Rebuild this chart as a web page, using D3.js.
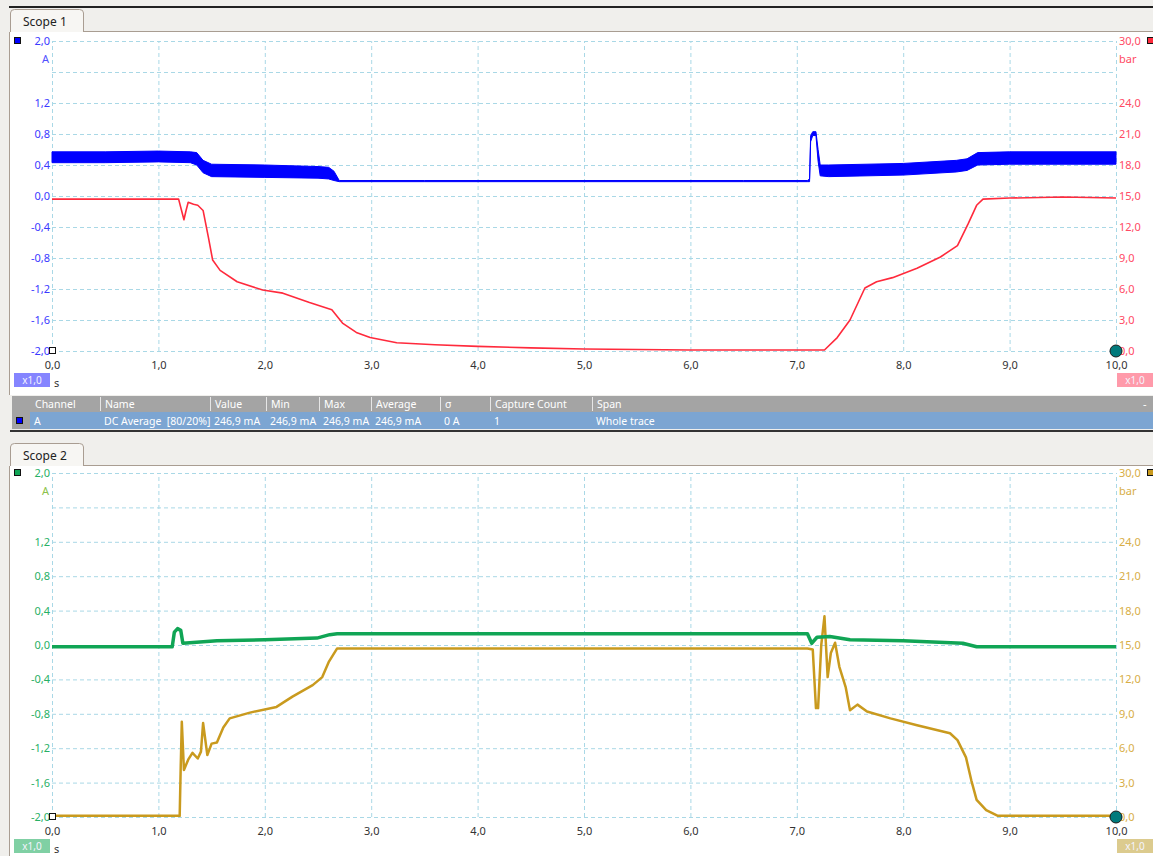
<!DOCTYPE html>
<html>
<head>
<meta charset="utf-8">
<script src="https://cdn.jsdelivr.net/npm/d3@7"></script>
<style>
  body { margin: 0; background: #f0efec; }
  svg { display: block; font-family: "Noto Sans", sans-serif; }
</style>
</head>
<body>
<svg id="chart" width="1153" height="856"></svg>
<script>

// ---- data ----
var timeTicks = [0, 1, 2, 3, 4, 5, 6, 7, 8, 9, 10];
var ampGrid   = [2.0, 1.6, 1.2, 0.8, 0.4, 0.0, -0.4, -0.8, -1.2, -1.6, -2.0];
var ampTicks  = [2.0, 1.2, 0.8, 0.4, 0.0, -0.4, -0.8, -1.2, -1.6, -2.0];
var barTicks  = [30, 24, 21, 18, 15, 12, 9, 6, 3, 0];

// scope 1, channel A (current, min/max envelope)
var blueT  = [0, 0.5, 1.0, 1.3, 1.36, 1.42, 1.5, 2.0, 2.5, 2.6, 2.65, 2.7, 3.5, 5.0, 6.5, 7.1, 7.12, 7.13, 7.15, 7.18, 7.2, 7.22, 7.3, 8.0, 8.5, 8.6, 8.7, 9.0, 10.0];
var blueLo = [0.43, 0.43, 0.44, 0.43, 0.40, 0.30, 0.25, 0.24, 0.23, 0.22, 0.20, 0.185, 0.185, 0.185, 0.185, 0.185, 0.185, 0.70, 0.78, 0.78, 0.45, 0.26, 0.25, 0.27, 0.31, 0.33, 0.40, 0.41, 0.41];
var blueHi = [0.57, 0.57, 0.58, 0.57, 0.56, 0.46, 0.41, 0.40, 0.38, 0.37, 0.32, 0.20, 0.20, 0.20, 0.20, 0.20, 0.22, 0.78, 0.83, 0.83, 0.60, 0.40, 0.40, 0.42, 0.46, 0.48, 0.56, 0.57, 0.57];

// scope 1, channel B (pressure, bar)
var redT   = [0, 0.5, 1.0, 1.19, 1.22, 1.24, 1.26, 1.28, 1.33, 1.37, 1.42, 1.47, 1.51, 1.58, 1.74, 1.98, 2.17, 2.42, 2.63, 2.73, 2.86, 2.99, 3.24, 3.6, 4.0, 4.5, 5.0, 6.0, 7.26, 7.38, 7.5, 7.64, 7.75, 7.9, 8.13, 8.35, 8.51, 8.61, 8.69, 8.75, 9.0, 9.5, 10.0];
var redBar = [14.7, 14.7, 14.7, 14.7, 13.5, 12.7, 13.6, 14.4, 14.2, 14.1, 13.6, 11.0, 8.8, 7.8, 6.7, 5.9, 5.6, 4.7, 4.0, 2.7, 1.8, 1.3, 0.8, 0.6, 0.45, 0.3, 0.2, 0.1, 0.1, 1.3, 3.0, 6.1, 6.7, 7.1, 8.0, 9.1, 10.2, 12.3, 14.1, 14.7, 14.8, 14.9, 14.8];

// scope 2, channel A (current)
var greenT = [0, 0.5, 1.13, 1.15, 1.18, 1.21, 1.23, 1.55, 2.0, 2.49, 2.61, 2.68, 4.0, 5.5, 7.1, 7.14, 7.19, 7.31, 7.5, 8.0, 8.56, 8.69, 9.0, 10.0];
var greenA = [-0.02, -0.02, -0.02, 0.15, 0.19, 0.17, 0.02, 0.05, 0.06, 0.08, 0.12, 0.13, 0.13, 0.13, 0.13, 0.02, 0.09, 0.10, 0.06, 0.05, 0.02, -0.02, -0.02, -0.02];

// scope 2, channel B (pressure, bar)
var goldT   = [0, 0.5, 1.0, 1.20, 1.21, 1.22, 1.24, 1.28, 1.32, 1.37, 1.40, 1.42, 1.46, 1.5, 1.55, 1.61, 1.67, 1.86, 2.11, 2.26, 2.45, 2.54, 2.6, 2.68, 3.0, 4.0, 5.0, 6.0, 7.1, 7.15, 7.18, 7.2, 7.23, 7.26, 7.29, 7.32, 7.36, 7.4, 7.46, 7.5, 7.57, 7.66, 7.88, 8.13, 8.44, 8.51, 8.59, 8.64, 8.69, 8.78, 8.89, 9.0, 10.0];
var goldBar = [0.1, 0.1, 0.1, 0.1, 4.5, 8.3, 4.1, 5.0, 5.6, 5.1, 5.7, 8.2, 5.4, 6.4, 6.5, 7.8, 8.6, 9.1, 9.6, 10.5, 11.5, 12.2, 13.5, 14.7, 14.7, 14.7, 14.7, 14.7, 14.7, 14.6, 9.5, 9.5, 15.0, 17.5, 12.2, 14.3, 15.2, 13.1, 11.3, 9.3, 9.8, 9.2, 8.6, 8.0, 7.3, 6.7, 5.2, 3.2, 1.5, 0.6, 0.1, 0.1, 0.1];

var tableHeaders = ["Channel", "Name", "Value", "Min", "Max", "Average", "\u03c3", "Capture Count", "Span"];
var tableRow     = ["A", "DC Average  [80/20%]", "246,9 mA", "246,9 mA", "246,9 mA", "246,9 mA", "0 A", "1", "Whole trace"];

// ---- drawing ----
var svg = d3.select("#chart");

var locale = d3.formatLocale({decimal: ",", thousands: ".", grouping: [3], currency: ["", ""], minus: "-"});
var fmt = locale.format(".1f");

var x = d3.scaleLinear().domain([0, 10]).range([52, 1116]);

function zip(t, a, b) {
  return t.map(function(d, i) { return {t: d, a: a[i], b: b ? b[i] : null}; });
}

function tab(top, label) {
  svg.append("path")
      .attr("d", "M10.5," + (top + 23) + "V" + (top + 4) + "Q10.5," + (top + 0.5) + " 14.5," + (top + 0.5) +
                 "H79.5Q83.5," + (top + 0.5) + " 83.5," + (top + 4) + "V" + (top + 23))
      .attr("fill", "#f7f6f3")
      .attr("stroke", "#a99d92");
  svg.append("text")
      .attr("x", 23).attr("y", top + 17)
      .attr("font-size", "12px").attr("fill", "#222")
      .text(label);
}

function scope(o) {
  var top = o.top, bottom = o.bottom;
  var yA = d3.scaleLinear().domain([-2, 2]).range([bottom, top]);
  var yB = d3.scaleLinear().domain([0, 30]).range([bottom, top]);

  // panel
  svg.append("rect")
      .attr("x", 10).attr("y", o.panelTop).attr("width", 1143).attr("height", o.panelBottom - o.panelTop)
      .attr("fill", "#fff");
  svg.append("line")
      .attr("x1", 83).attr("x2", 1153).attr("y1", o.panelTop - 0.5).attr("y2", o.panelTop - 0.5)
      .attr("stroke", "#a99d92");
  svg.append("line")
      .attr("x1", 9.5).attr("x2", 9.5).attr("y1", o.panelTop).attr("y2", o.panelBottom)
      .attr("stroke", "#a99d92");
  tab(o.panelTop - 23, o.title);

  // grid
  var gx = svg.append("g")
      .attr("transform", "translate(0," + bottom + ")")
      .call(d3.axisBottom(x).tickValues(timeTicks).tickSize(-(bottom - top)).tickFormat(""));
  var gy = svg.append("g")
      .attr("transform", "translate(52,0)")
      .call(d3.axisLeft(yA).tickValues(ampGrid).tickSize(-(1116 - 52)).tickFormat(""));
  [gx, gy].forEach(function(g) {
    g.select(".domain").remove();
    g.selectAll("line").attr("stroke", "#a9d8e6").attr("stroke-dasharray", "4,3");
  });

  // axis labels
  var left = svg.append("g")
      .attr("transform", "translate(51,0)")
      .call(d3.axisLeft(yA).tickValues(ampTicks).tickSize(0).tickPadding(1).tickFormat(fmt));
  var right = svg.append("g")
      .attr("transform", "translate(1117,0)")
      .call(d3.axisRight(yB).tickValues(barTicks).tickSize(0).tickPadding(2).tickFormat(fmt));
  var bot = svg.append("g")
      .attr("transform", "translate(0," + bottom + ")")
      .call(d3.axisBottom(x).tickValues(timeTicks).tickSize(0).tickPadding(10).tickFormat(fmt));
  [left, right, bot].forEach(function(g) {
    g.select(".domain").remove();
    g.selectAll("text").attr("font-family", "Noto Sans, sans-serif").attr("font-size", "11px");
  });
  left.selectAll("text").attr("fill", o.colA);
  right.selectAll("text").attr("fill", o.colB);
  bot.selectAll("text").attr("fill", "#333");

  svg.append("text").attr("x", 49).attr("y", top + 22).attr("text-anchor", "end")
      .attr("font-size", "11px").attr("fill", o.unitA).text("A");
  svg.append("text").attr("x", 1119).attr("y", top + 22)
      .attr("font-size", "11px").attr("fill", o.colB).text("bar");
  svg.append("text").attr("x", 54).attr("y", bottom + 36)
      .attr("font-size", "11px").attr("fill", "#333").text("s");

  // scale badges
  [[14, o.badgeA], [1117, o.badgeB]].forEach(function(b) {
    svg.append("rect").attr("x", b[0]).attr("y", bottom + 22).attr("width", 36).attr("height", 14).attr("fill", b[1]);
    svg.append("text").attr("x", b[0] + 18).attr("y", bottom + 33).attr("text-anchor", "middle")
        .attr("font-size", "10px").attr("fill", "#f4f4ff").text("x1,0");
  });

  // channel squares
  svg.append("rect").attr("x", 14.5).attr("y", top - 3.5).attr("width", 6).attr("height", 6)
      .attr("fill", o.colTraceA).attr("stroke", "#111");
  svg.append("rect").attr("x", 1147.5).attr("y", top - 3.5).attr("width", 6).attr("height", 6)
      .attr("fill", o.colTraceB).attr("stroke", "#111");

  // traces
  if (o.areaA) {
    svg.append("path")
        .datum(o.dataA)
        .attr("d", d3.area().x(function(d) { return x(d.t); })
                            .y0(function(d) { return yA(d.a); })
                            .y1(function(d) { return yA(d.b); }))
        .attr("fill", o.colTraceA).attr("stroke", o.colTraceA).attr("stroke-width", 1);
  }
  svg.append("path")
      .datum(o.dataB)
      .attr("d", d3.line().x(function(d) { return x(d.t); }).y(function(d) { return yB(d.a); }))
      .attr("fill", "none").attr("stroke", o.colTraceB).attr("stroke-width", o.widthB)
      .attr("stroke-linejoin", "round");
  if (!o.areaA) {
    svg.append("path")
        .datum(o.dataA)
        .attr("d", d3.line().x(function(d) { return x(d.t); }).y(function(d) { return yA(d.a); }))
        .attr("fill", "none").attr("stroke", o.colTraceA).attr("stroke-width", 3.5)
        .attr("stroke-linejoin", "round");
  }

  // zero marker and trigger dot
  svg.append("rect").attr("x", 49.5).attr("y", yA(-2) - 3.5).attr("width", 6).attr("height", 6)
      .attr("fill", "#fff").attr("stroke", "#111");
  svg.append("circle").attr("cx", x(10)).attr("cy", yB(0)).attr("r", 6)
      .attr("fill", "#007a7c").attr("stroke", "#1a1a1a");
}

// window frame line
svg.append("line").attr("x1", 9).attr("x2", 1153).attr("y1", 7).attr("y2", 7)
    .attr("stroke", "#222").attr("stroke-width", 2);

scope({
  title: "Scope 1", panelTop: 32, panelBottom: 395, top: 41, bottom: 351,
  colA: "#3a3aff", unitA: "#5050ff", colB: "#ff4a64", badgeA: "#8585ff", badgeB: "#ff9aaa",
  colTraceA: "#0000ff", colTraceB: "#ff2a3c", widthB: 1.6,
  areaA: true, dataA: zip(blueT, blueLo, blueHi), dataB: zip(redT, redBar)
});

// measurement table
var cols = [12, 100, 210, 266, 319, 371, 440, 490, 592];
svg.append("rect").attr("x", 12).attr("y", 396).attr("width", 1141).attr("height", 16).attr("fill", "#a4a4a4");
svg.append("rect").attr("x", 30).attr("y", 412).attr("width", 1123).attr("height", 17).attr("fill", "#7ca5d2");
svg.append("rect").attr("x", 12).attr("y", 412).attr("width", 18).attr("height", 17).attr("fill", "#a4a4a4");
svg.append("rect").attr("x", 16.5).attr("y", 417.5).attr("width", 6).attr("height", 6).attr("fill", "#0000ff").attr("stroke", "#111");
svg.append("line").attr("x1", 10).attr("x2", 1153).attr("y1", 431).attr("y2", 431).attr("stroke", "#333").attr("stroke-width", 2);

svg.selectAll(".hsep").data(cols.slice(1)).enter().append("line")
    .attr("x1", function(d) { return d + 0.5; }).attr("x2", function(d) { return d + 0.5; })
    .attr("y1", 397).attr("y2", 411).attr("stroke", "#e6e6e6");
svg.selectAll(".hcell").data(tableHeaders).enter().append("text")
    .attr("x", function(d, i) { return (i === 0 ? 30 : cols[i]) + 5; })
    .attr("y", 408).attr("font-size", "10.5px").attr("fill", "#fff")
    .text(function(d) { return d; });
svg.selectAll(".rcell").data(tableRow).enter().append("text")
    .attr("x", function(d, i) { return (i === 0 ? 30 : cols[i]) + 4; })
    .attr("y", 425).attr("font-size", "10.5px").attr("fill", "#fff")
    .attr("xml:space", "preserve")
    .text(function(d) { return d; });
svg.append("text").attr("x", 1143).attr("y", 408).attr("font-size", "11px").attr("fill", "#fff").text("-");

scope({
  title: "Scope 2", panelTop: 466, panelBottom: 856, top: 473, bottom: 817,
  colA: "#27b065", unitA: "#8cc24a", colB: "#d8ae46", badgeA: "#80d0a4", badgeB: "#dccb8e",
  colTraceA: "#10a555", colTraceB: "#c99a1e", widthB: 2.5,
  areaA: false, dataA: zip(greenT, greenA), dataB: zip(goldT, goldBar)
});

</script>
</body>
</html>
